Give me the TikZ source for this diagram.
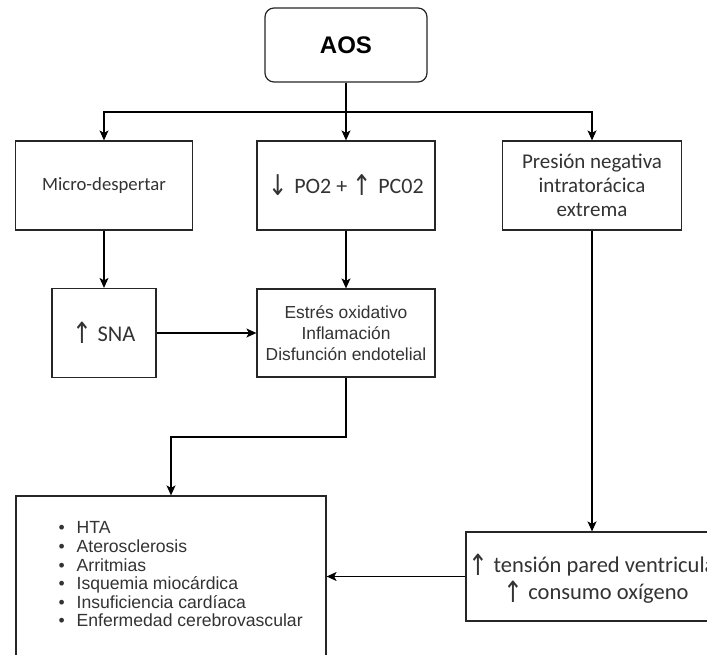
\documentclass[tikz,border=0pt]{standalone}
\usepackage{fontspec}
\setmainfont{Liberation Sans}
\newfontfamily\calfont{Carlito}
\newfontfamily\symfont{DejaVu Sans}
\usetikzlibrary{arrows.meta}
\newcommand{\arrUp}{\raisebox{-0.12em}{\scalebox{1.05}[1.3]{\symfont\char"2191}}}
\newcommand{\arrDown}{\raisebox{-0.12em}{\scalebox{1.05}[1.3]{\symfont\char"2193}}}
\definecolor{ink}{HTML}{333333}
\tikzset{
  box/.style={draw=black!85, line width=1.2pt, fill=white, inner sep=0pt,
    align=center, text=ink},
  cal/.style={font=\calfont\fontsize{#1}{24}\selectfont},
  helv/.style={font=\fontsize{17.4}{21}\selectfont},
  conn/.style={line width=1.2pt, draw=black,
    -{Stealth[length=10pt,width=9pt,inset=2.5pt]}},
  wire/.style={line width=1.2pt, draw=black}
}
\begin{document}
\begin{tikzpicture}[x=1pt,y=-1pt]
\useasboundingbox (0,0) rectangle (707,655);
\clip (0,0) rectangle (707,655);

% top node
\node[box, rounded corners=9pt, minimum width=162pt, minimum height=74pt,
  font=\bfseries\fontsize{24}{28}\selectfont, text=black] (aos) at (346,45) {AOS};

% first row
\node[box, cal=18.7, minimum width=177pt, minimum height=89pt] (micro) at (104,185.5) {Micro-despertar};
\node[box, cal=22, minimum width=178pt, minimum height=89pt] (gas) at (346,185.5) {\arrDown\hspace{0.3em}PO2 + \arrUp\hspace{0.3em}PC02};
\node[box, cal=21, minimum width=179pt, minimum height=89pt] (pres) at (592,185.5) {Presión negativa\\intratorácica\\extrema};

% second row
\node[box, cal=22.5, minimum width=104pt, minimum height=89pt] (sna) at (104,333) {\arrUp\ SNA};
\node[box, helv, minimum width=178pt, minimum height=88pt] (ox) at (346,333) {Estrés oxidativo\\Inflamación\\Disfunción endotelial};

% outcomes
\node[box, minimum width=310pt, minimum height=180pt] (list) at (171,586) {};
\node[anchor=west, align=left, text=ink, font=\fontsize{17.6}{18.6}\selectfont] (items) at (55,574.5)
  {\textbullet\hspace{12pt}HTA\\
   \textbullet\hspace{12pt}Aterosclerosis\\
   \textbullet\hspace{12pt}Arritmias\\
   \textbullet\hspace{12pt}Isquemia miocárdica\\
   \textbullet\hspace{12pt}Insuficiencia cardíaca\\
   \textbullet\hspace{12pt}Enfermedad cerebrovascular};
\node[box, minimum width=260pt, minimum height=89pt] (wall) at (596,576.5) {};
\node[align=center, text=ink, font=\calfont\fontsize{22.5}{27}\selectfont] (walltext) at (596,578.5)
  {\arrUp\ tensión pared ventricular\\\arrUp\ consumo oxígeno};

% connectors
\coordinate (split) at (346,112);
\draw[wire] (aos.south) -- (split);
\draw[conn] (split) -| (micro.north);
\draw[conn] (split) -- (gas.north);
\draw[conn] (split) -| (pres.north);
\draw[conn] (micro.south) -- (sna.north);
\draw[conn] (gas.south) -- (ox.north);
\draw[conn] (sna.east) -- (ox.west);
\coordinate (bend) at (346,437);
\draw[conn] (ox.south) -- (bend) -| (list.north);
\draw[conn] (pres.south) -- (pres.south |- wall.north);
\draw[conn] (wall.west) -- (wall.west -| list.east);
\end{tikzpicture}
\end{document}
